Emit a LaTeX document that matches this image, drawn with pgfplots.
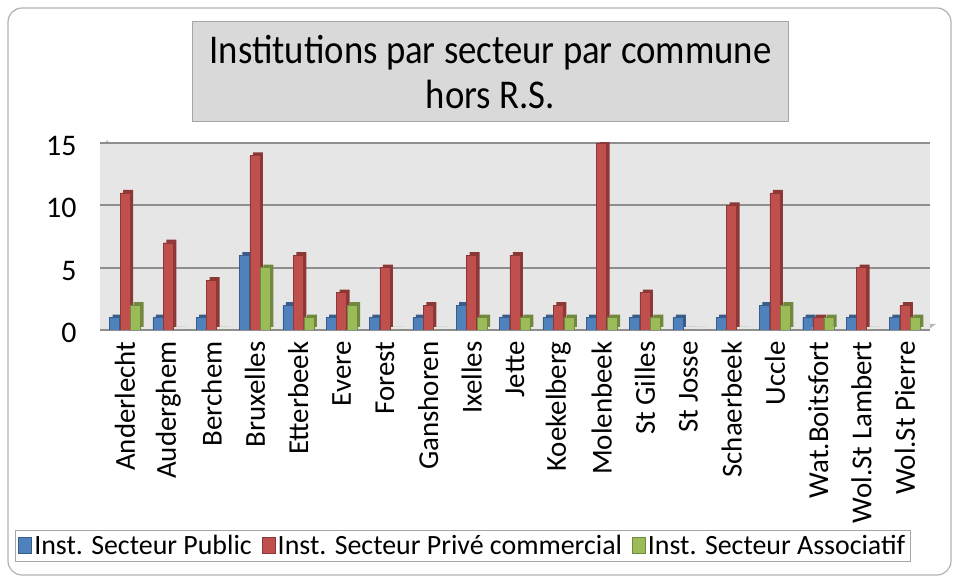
\documentclass[border=0pt]{standalone}
\usepackage{pgfplots}
\pgfplotsset{compat=1.18}
\usepackage{fontspec}
\setmainfont{Carlito}
\newfontfamily\titlefont[FakeStretch=0.9]{Carlito}
\definecolor{cblue}{HTML}{4F81BD}
\definecolor{cred}{HTML}{C0504D}
\definecolor{cgreen}{HTML}{9BBB59}
\definecolor{dblue}{HTML}{385D8A}
\definecolor{dred}{HTML}{8C3836}
\definecolor{dgreen}{HTML}{71893F}
\definecolor{wall}{HTML}{E6E6E6}
\definecolor{gridc}{HTML}{8E8E8E}
\pgfplotstableread{
x pub priv asso
0 1 11 2
1 1 7 0
2 1 4 0
3 6 14 5
4 2 6 1
5 1 3 2
6 1 5 0
7 1 2 0
8 2 6 1
9 1 6 1
10 1 2 1
11 1 15 1
12 1 3 1
13 1 0 0
14 1 10 0
15 2 11 2
16 1 1 1
17 1 5 0
18 1 2 1
}\data
\begin{document}
\begin{tikzpicture}[x=1bp,y=1bp]
\path (0,0) rectangle (959,578);
\draw[gray!60, line width=1.2bp, rounded corners=14bp] (8,3) rectangle (951,570);
\node[draw=gray!70, fill=gray!30, line width=1bp, minimum width=595bp, minimum height=100bp, align=center, font=\titlefont\fontsize{41}{46}\selectfont, inner sep=0pt] at (490.5,506) {Institutions par secteur par commune\\hors R.S.};
% left wall and floor (3D decoration)
\fill[gray!55] (100,248) -- (108,254) -- (108,438) -- (100,432) -- cycle;
\fill[gray!55] (100,248) -- (108,254) -- (936,254) -- (928,248) -- cycle;
\begin{axis}[
  at={(100bp,248bp)}, anchor=south west,
  scale only axis, width=830bp, height=187bp,
  axis background/.style={fill=wall},
  ymin=0, ymax=15, ytick={0,5,10,15},
  xmin=-0.577, xmax=18.58,
  xtick=data,
  xticklabels={Anderlecht,Auderghem,Berchem,Bruxelles,Etterbeek,Evere,Forest,Ganshoren,Ixelles,Jette,Koekelberg,Molenbeek,St Gilles,St Josse,Schaerbeek,Uccle,Wat.Boitsfort,Wol.St Lambert,Wol.St Pierre},
  x tick label style={rotate=90, anchor=east, xshift=-8bp, font=\fontsize{29}{34}\selectfont},
  y tick label style={font=\fontsize{30}{34}\selectfont},
  yticklabel style={xshift=-20bp, yshift=-3bp},
  /pgf/number format/assume math mode=true,
  ymajorgrids, major grid style={gridc, line width=2bp},
  major tick length=0pt,
  axis line style={draw=none},
  ybar, bar width=10bp,
  legend columns=3,
  legend style={at={(0.437,-1.155)}, anchor=center, draw=gray!70, line width=1bp,
    font=\fontsize{28}{32}\selectfont, /tikz/every even column/.append style={column sep=8bp},
    inner xsep=3bp, inner ysep=3bp},
  legend image code/.code={\draw[#1, line width=1bp] (0bp,-8bp) rectangle (13bp,8bp);},
]
\addplot[fill=dblue, draw=none, bar shift=-10.5bp, xshift=3bp, yshift=3bp, forget plot] table[x=x,y=pub] {\data};
\addplot[fill=cblue, draw=dblue, bar shift=-10.5bp] table[x=x,y=pub] {\data};
\addplot[fill=dred, draw=none, bar shift=0bp, xshift=3bp, yshift=3bp, forget plot] table[x=x,y=priv] {\data};
\addplot[fill=cred, draw=dred, bar shift=0bp] table[x=x,y=priv] {\data};
\addplot[fill=dgreen, draw=none, bar shift=10.5bp, xshift=3bp, yshift=3bp, forget plot] table[x=x,y=asso] {\data};
\addplot[fill=cgreen, draw=dgreen, bar shift=10.5bp] table[x=x,y=asso] {\data};
\legend{Inst. Secteur Public, Inst. Secteur Privé commercial, Inst. Secteur Associatif}
\end{axis}
\end{tikzpicture}
\end{document}
